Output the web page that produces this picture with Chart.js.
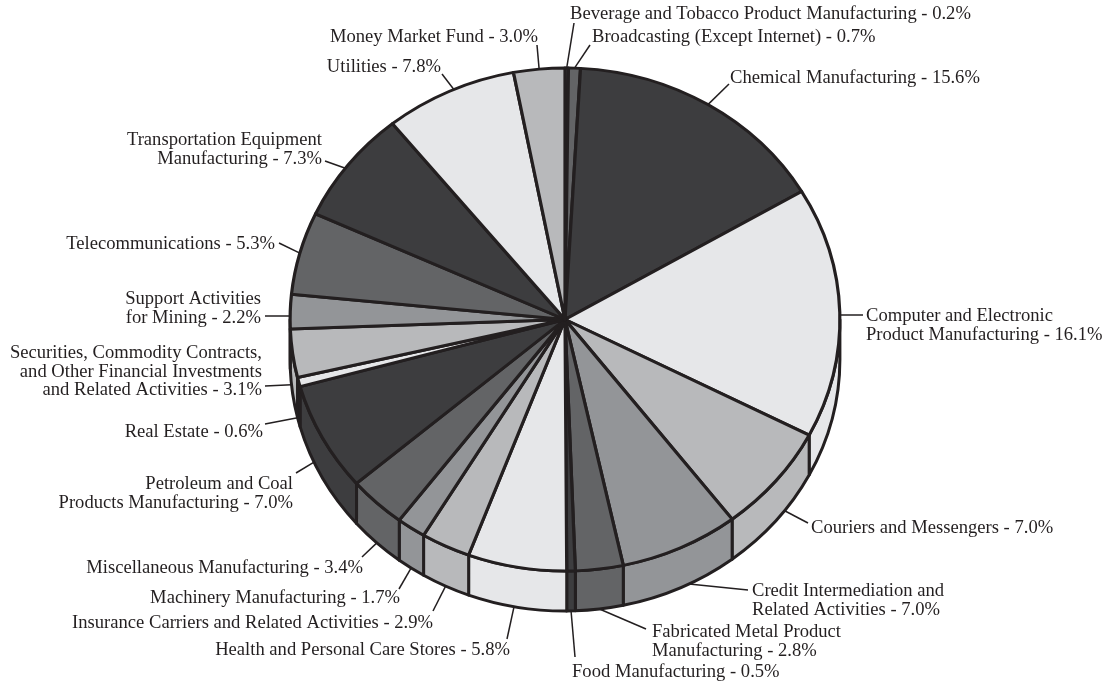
<!DOCTYPE html>
<html>
<head>
<meta charset="utf-8">
<style>
  html, body { margin: 0; padding: 0; background: #ffffff; }
  canvas { display: block; }
</style>
<script src="https://cdn.jsdelivr.net/npm/chart.js@4/dist/chart.umd.min.js"></script>
</head>
<body>
<canvas id="pie" width="1111" height="684"></canvas>
<script>
// Industry names, one entry per printed line
const categoryLines = [
  ["Beverage and Tobacco Product Manufacturing"],
  ["Broadcasting (Except Internet)"],
  ["Chemical Manufacturing"],
  ["Computer and Electronic", "Product Manufacturing"],
  ["Couriers and Messengers"],
  ["Credit Intermediation and", "Related Activities"],
  ["Fabricated Metal Product", "Manufacturing"],
  ["Food Manufacturing"],
  ["Health and Personal Care Stores"],
  ["Insurance Carriers and Related Activities"],
  ["Machinery Manufacturing"],
  ["Miscellaneous Manufacturing"],
  ["Petroleum and Coal", "Products Manufacturing"],
  ["Real Estate"],
  ["Securities, Commodity Contracts,", "and Other Financial Investments", "and Related Activities"],
  ["Support Activities", "for Mining"],
  ["Telecommunications"],
  ["Transportation Equipment", "Manufacturing"],
  ["Utilities"],
  ["Money Market Fund"]
];

// Share of the total, in percent
const shares = [0.2, 0.7, 15.6, 16.1, 7.0, 7.0, 2.8, 0.5, 5.8, 2.9, 1.7, 3.4, 7.0, 0.6, 3.1, 2.2, 5.3, 7.3, 7.8, 3.0];

// Grey ramp repeated around the pie
const greys = ["#939598", "#636466", "#3d3d3f", "#e6e7e9", "#b8b9bb"];
const ink = "#231f20";

// Pie geometry: vertical squash of the disc and thickness of its side wall
const squash = 0.915;
const wallDepth = 40;
const lineGap = 18.7;

// Where each caption sits: x, first baseline, alignment, leader end, angular nudge of the leader root (degrees)
const captionLayout = [
  { x: 570, y: 19,  align: "left",  tip: [574, 23],  nudge: 0 },
  { x: 592, y: 42,  align: "left",  tip: [590, 45],  nudge: 0 },
  { x: 730, y: 83,  align: "left",  tip: [729, 84],  nudge: 0 },
  { x: 866, y: 321, align: "left",  tip: [863, 315], nudge: 0.6 },
  { x: 811, y: 533, align: "left",  tip: [808, 523], nudge: -3 },
  { x: 752, y: 596, align: "left",  tip: [748, 590], nudge: -2 },
  { x: 652, y: 637, align: "left",  tip: [646, 629], nudge: 0 },
  { x: 572, y: 677, align: "left",  tip: [575, 657], nudge: 0 },
  { x: 510, y: 655, align: "right", tip: [507, 639], nudge: 0.6 },
  { x: 433, y: 628, align: "right", tip: [433, 611], nudge: 0 },
  { x: 400, y: 603, align: "right", tip: [399, 589], nudge: 0 },
  { x: 363, y: 573, align: "right", tip: [362, 557], nudge: 0 },
  { x: 293, y: 489, align: "right", tip: [296, 473], nudge: 4 },
  { x: 263, y: 437, align: "right", tip: [265, 424], nudge: 1 },
  { x: 262, y: 358, align: "right", tip: [265, 386], nudge: 2 },
  { x: 261, y: 304, align: "right", tip: [265, 316], nudge: -1 },
  { x: 275, y: 249, align: "right", tip: [279, 243], nudge: 0 },
  { x: 322, y: 145, align: "right", tip: [325, 161], nudge: -1 },
  { x: 441, y: 72,  align: "right", tip: [442, 74],  nudge: 1 },
  { x: 538, y: 42,  align: "right", tip: [537, 45],  nudge: 0 }
];

// Side wall of the disc, painted before the slices, then the slices are squashed into an ellipse
const extrudedDisc = {
  id: "extrudedDisc",
  beforeDatasetsDraw(chart) {
    const { ctx } = chart;
    const arcs = chart.getDatasetMeta(0).data;
    ctx.save();
    ctx.lineWidth = 3;
    ctx.lineJoin = "round";
    ctx.strokeStyle = ink;
    arcs.forEach((arc) => {
      const ry = arc.outerRadius * squash;
      const from = Math.max(arc.startAngle, 0);
      const to = Math.min(arc.endAngle, Math.PI);
      if (to <= from) return;
      ctx.beginPath();
      ctx.ellipse(arc.x, arc.y, arc.outerRadius, ry, 0, from, to);
      ctx.ellipse(arc.x, arc.y + wallDepth, arc.outerRadius, ry, 0, to, from, true);
      ctx.closePath();
      ctx.fillStyle = arc.options.backgroundColor;
      ctx.fill();
      ctx.stroke();
    });
    ctx.restore();

    const first = arcs[0];
    ctx.save();
    ctx.translate(first.x, first.y);
    ctx.scale(1, squash);
    ctx.translate(-first.x, -first.y);
  },
  afterDatasetsDraw(chart) {
    chart.ctx.restore();
  }
};

// Captions and their thin leader lines
const captions = {
  id: "captions",
  afterDraw(chart) {
    const { ctx } = chart;
    const arcs = chart.getDatasetMeta(0).data;
    ctx.save();
    ctx.fillStyle = ink;
    ctx.strokeStyle = ink;
    ctx.lineWidth = 1.5;
    ctx.font = '18.6px "Liberation Serif"';
    ctx.textBaseline = "alphabetic";
    arcs.forEach((arc, i) => {
      const place = captionLayout[i];
      const mid = (arc.startAngle + arc.endAngle) / 2 + place.nudge * Math.PI / 180;
      const rootX = arc.x + Math.cos(mid) * arc.outerRadius;
      const lower = Math.sin(mid) > 0.02;
      const rootY = arc.y + Math.sin(mid) * arc.outerRadius * squash + (lower ? wallDepth : 0);
      ctx.beginPath();
      ctx.moveTo(rootX, rootY);
      ctx.lineTo(place.tip[0], place.tip[1]);
      ctx.stroke();

      ctx.textAlign = place.align;
      const lines = categoryLines[i];
      lines.forEach((line, n) => {
        const text = n === lines.length - 1 ? `${line} - ${shares[i].toFixed(1)}%` : line;
        ctx.fillText(text, place.x, place.y + n * lineGap);
      });
    });
    ctx.restore();
  }
};

new Chart(document.getElementById("pie"), {
  type: "pie",
  data: {
    labels: categoryLines.map((lines) => lines.join(" ")),
    datasets: [{
      data: shares,
      backgroundColor: shares.map((_, i) => greys[i % greys.length]),
      borderColor: ink,
      borderWidth: 3.2,
      borderJoinStyle: "round",
      clip: false
    }]
  },
  options: {
    responsive: false,
    animation: false,
    layout: { padding: { left: 288.5, right: 269.5, top: 43, bottom: 88 } },
    plugins: { legend: { display: false }, tooltip: { enabled: false } }
  },
  plugins: [extrudedDisc, captions]
});
</script>
</body>
</html>
